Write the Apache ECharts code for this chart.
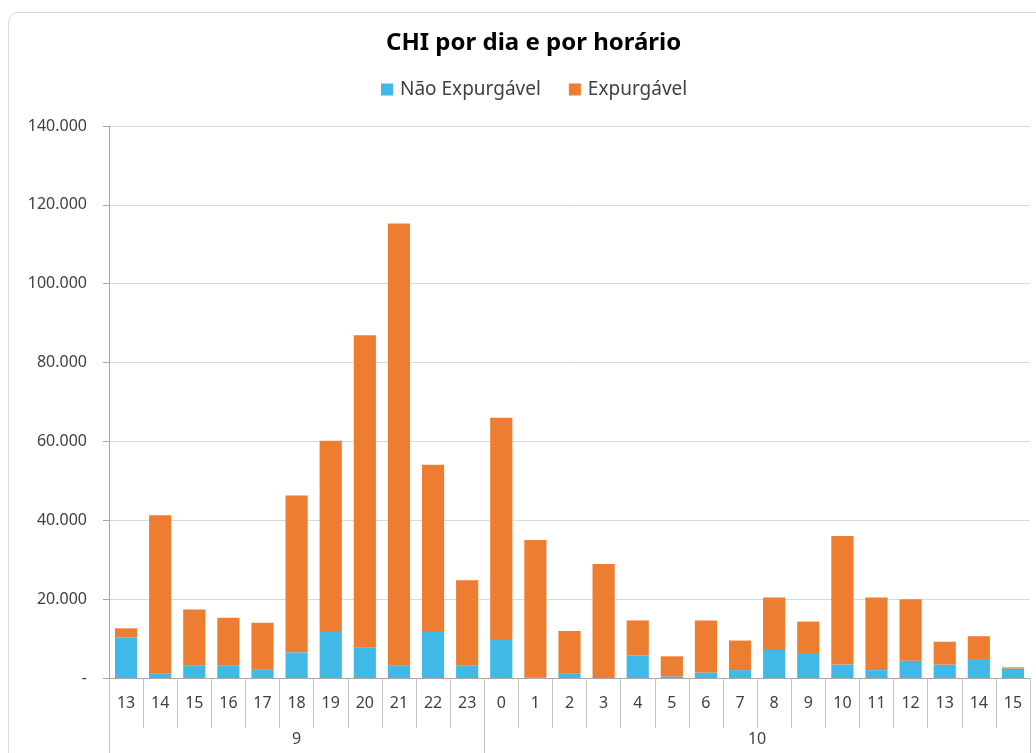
<!DOCTYPE html>
<html>
<head>
<meta charset="utf-8">
<script src="https://cdn.jsdelivr.net/npm/echarts@6/dist/echarts.min.js"></script>
<style>
html,body{margin:0;padding:0;background:#fff;}
#chart{width:1036px;height:753px;}
</style>
</head>
<body>
<div id="chart"></div>
<script>
const days = ['9', '10'];
const dayHours = [
  [13,14,15,16,17,18,19,20,21,22,23],
  [0,1,2,3,4,5,6,7,8,9,10,11,12,13,14,15]
];
const hours = dayHours.flat().map(String);
const naoExpurgavel = [10300,1100,3100,3100,2100,6500,11900,7800,3100,11900,3100,
  9900,200,1100,0,5700,400,1400,2000,7100,6100,3400,2000,4400,3400,4800,2400];
const totals = [12600,41300,17400,15300,14000,46300,60200,86900,115300,54100,24800,
  66000,35000,11900,28900,14600,5500,14600,9500,20400,14300,36000,20400,20000,9200,10600,2700];
const expurgavel = totals.map((t, i) => t - naoExpurgavel[i]);

// day boundaries and centers on a 0..N scale
const bounds = [0];
dayHours.forEach(h => bounds.push(bounds[bounds.length-1] + h.length));
const centers = days.map((d, i) => (bounds[i] + bounds[i+1]) / 2);

const chart = echarts.init(document.getElementById('chart'));
const fontFam = '"Noto Sans", "Open Sans", sans-serif';
chart.setOption({
  animation: false,
  graphic: [{
    type: 'rect',
    shape: {x: 8.5, y: 12.5, width: 1100, height: 800, r: 10},
    style: {fill: 'none', stroke: '#d9d9d9', lineWidth: 1},
    z: -10
  }],
  title: {
    text: 'CHI por dia e por horário',
    left: 381,
    top: 26,
    textStyle: {fontFamily: fontFam, fontSize: 24, fontWeight: 'bold', color: '#000'}
  },
  legend: {
    top: 75,
    left: 376,
    itemWidth: 12,
    itemHeight: 12,
    itemGap: 28,
    icon: 'rect',
    textStyle: {fontFamily: fontFam, fontSize: 19, color: '#404040', padding: [0,0,0,2]},
    data: ['Não Expurgável', 'Expurgável']
  },
  grid: {left: 109, right: 6, top: 126, bottom: 75, containLabel: false},
  xAxis: [{
    type: 'category',
    data: hours,
    position: 'bottom',
    axisLine: {show: true, lineStyle: {color: '#a6a6a6', width: 1}},
    axisTick: {show: true, alignWithLabel: false, interval: 0, length: 50, lineStyle: {color: '#bfbfbf'}},
    axisLabel: {interval: 0, margin: 17, fontFamily: fontFam, fontSize: 16, color: '#404040'},
    splitLine: {show: false}
  }, {
    type: 'value',
    min: 0,
    max: bounds[bounds.length-1],
    position: 'bottom',
    axisLine: {show: false},
    axisTick: {show: true, customValues: bounds, length: 80, lineStyle: {color: '#bfbfbf'}},
    axisLabel: {
      customValues: centers,
      margin: 53,
      fontFamily: fontFam, fontSize: 16, color: '#404040',
      formatter: v => { const i = centers.indexOf(v); return i >= 0 ? days[i] : ''; }
    },
    splitLine: {show: false}
  }],
  yAxis: {
    type: 'value',
    min: 0,
    max: 140000,
    interval: 20000,
    axisLine: {show: true, lineStyle: {color: '#a6a6a6'}},
    axisTick: {show: true, length: 6, lineStyle: {color: '#a6a6a6'}},
    axisLabel: {
      margin: 22,
      fontFamily: fontFam, fontSize: 16, color: '#404040',
      formatter: v => v === 0 ? '-' : (v/1000) + '.000'
    },
    splitLine: {show: true, lineStyle: {color: '#d9d9d9', width: 1}}
  },
  series: [{
    name: 'Não Expurgável',
    type: 'bar',
    stack: 'total',
    xAxisIndex: 0,
    data: naoExpurgavel,
    barCategoryGap: '35%',
    itemStyle: {color: '#41b9e6'}
  }, {
    name: 'Expurgável',
    type: 'bar',
    stack: 'total',
    xAxisIndex: 0,
    data: expurgavel,
    barCategoryGap: '35%',
    itemStyle: {color: '#ed7d31'}
  }]
});
</script>
</body>
</html>
